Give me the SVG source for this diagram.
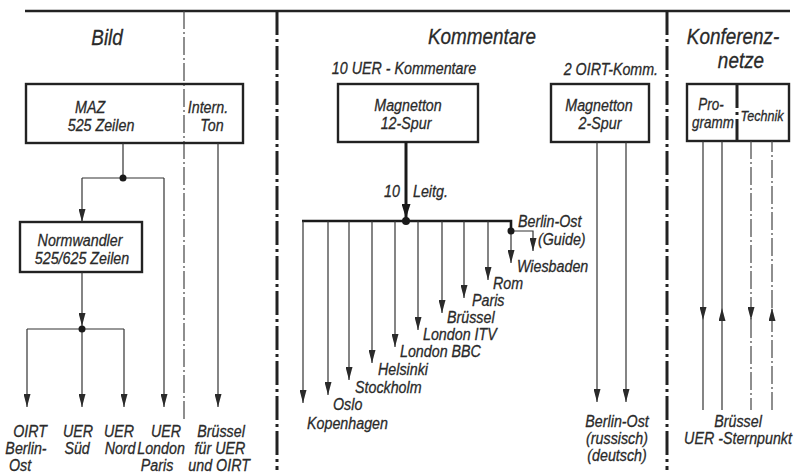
<svg xmlns="http://www.w3.org/2000/svg" width="796" height="473" viewBox="0 0 796 473">
<defs>
<marker id="ah" markerUnits="userSpaceOnUse" markerWidth="13" markerHeight="7" refX="13" refY="3.5" orient="auto"><path d="M0,0 L13,3.5 L0,7 z" fill="#2a2a2a"/></marker>
<marker id="ahb" markerUnits="userSpaceOnUse" markerWidth="14" markerHeight="9" refX="14" refY="4.5" orient="auto"><path d="M0,0 L14,4.5 L0,9 z" fill="#1a1a1a"/></marker>
<style>
text{font-family:"Liberation Sans",Arial,sans-serif;font-style:italic;fill:#2a2a2a;stroke:#2a2a2a;stroke-width:0.3;font-size:17px;transform-box:fill-box;transform-origin:left center;transform:scaleX(0.84)}
.m{text-anchor:middle;transform-origin:center}
.h{font-size:22px;transform:scaleX(0.86)}
.box{fill:none;stroke:#222;stroke-width:2.4}
.ln{stroke:#333;stroke-width:1.2;fill:none}
.ar{marker-end:url(#ah)}
.thick{stroke:#1a1a1a;stroke-width:3;fill:none}
.div{stroke:#222;stroke-width:3;stroke-dasharray:24 4 3 4;fill:none}
.dd{stroke:#444;stroke-width:1.2;stroke-dasharray:18 3 2 3;fill:none}
.dot{fill:#1a1a1a}
</style>
</defs>
<rect width="796" height="473" fill="#fff"/>
<g id="frame">
<path d="M25,11 H790" stroke="#222" stroke-width="2.4"/>
<path class="div" d="M277,11 V470"/>
<path class="div" d="M667,11 V470"/>
<path class="dd" d="M184,11 V420"/>
<text class="h m" x="107" y="45">Bild</text>
<text class="h m" x="482" y="44">Kommentare</text>
<text class="h m" x="733" y="44">Konferenz-</text>
<text class="h m" x="741" y="68">netze</text>
</g>
<g id="maz">
<rect class="box" x="26" y="84" width="217" height="59"/>
<text class="m" x="90" y="113">MAZ</text>
<text class="m" x="101" y="131">525 Zeilen</text>
<text class="m" x="208" y="113">Intern.</text>
<text class="m" x="212" y="131">Ton</text>
</g>
<g id="normwandler">
<rect class="box" x="20" y="222" width="122" height="50"/>
<text class="m" x="80" y="246">Normwandler</text>
<text class="m" x="82" y="264">525/625 Zeilen</text>
</g>
<g id="magnetton12">
<text class="m" x="404" y="74">10 UER - Kommentare</text>
<rect class="box" x="338" y="84" width="140" height="58"/>
<text class="m" x="408" y="111">Magnetton</text>
<text class="m" x="406" y="129">12-Spur</text>
</g>
<g id="magnetton2">
<text class="m" x="611" y="75">2 OIRT-Komm.</text>
<rect class="box" x="551" y="84" width="98" height="58"/>
<text class="m" x="599" y="111">Magnetton</text>
<text class="m" x="600" y="129">2-Spur</text>
</g>
<g id="konferenz">
<rect class="box" x="687" y="84" width="102" height="57"/>
<path class="div" d="M737,84 V141" stroke-dasharray="30 4 3 4"/>
<text class="m" x="711" y="110" style="font-size:16px">Pro-</text>
<text class="m" x="713" y="128" style="font-size:16px">gramm</text>
<text class="m" x="762" y="121" style="font-size:15px">Technik</text>
</g>
<g id="connectors">
<path class="ln" d="M123,143 V178 M82,178 H164"/>
<path class="ln ar" d="M82,178 V222"/>
<path class="ln ar" d="M164,178 V407"/>
<path class="ln ar" d="M218,143 V407"/>
<path class="ln ar" d="M82,272 V326"/>
<path class="ln" d="M27,329 H124"/>
<path class="ln ar" d="M27,329 V407"/>
<path class="ln ar" d="M82,329 V407"/>
<path class="ln ar" d="M124,329 V407"/>
<circle class="dot" cx="123" cy="178" r="3.5"/>
<circle class="dot" cx="82" cy="329" r="3.5"/>
<path class="thick" d="M406,142 V218" marker-end="url(#ahb)"/>
<text class="m" x="392" y="197">10</text>
<text x="413" y="197">Leitg.</text>
<circle class="dot" cx="406" cy="221" r="4"/>
<path d="M302,221 H511 V231" stroke="#1a1a1a" stroke-width="2.6" fill="none"/>
<path class="ln ar" d="M303,221 V403"/>
<path class="ln ar" d="M328,221 V395"/>
<path class="ln ar" d="M349,221 V380"/>
<path class="ln ar" d="M372,221 V363"/>
<path class="ln ar" d="M395,221 V347"/>
<path class="ln ar" d="M418,221 V330"/>
<path class="ln ar" d="M442,221 V313"/>
<path class="ln ar" d="M464,221 V298"/>
<path class="ln ar" d="M488,221 V280"/>
<path class="ln ar" d="M511,231 V263"/>
<path class="ln ar" d="M511,231 H533 V251"/>
<circle class="dot" cx="511" cy="231" r="3.5"/>
<path class="ln ar" d="M597,142 V402"/>
<path class="ln ar" d="M626,142 V402"/>
<path class="ln ar" d="M703,141 V320"/>
<path class="ln" d="M703,320 V410"/>
<path class="ln ar" d="M722,410 V308"/>
<path class="ln" d="M722,308 V141"/>
<path class="dd ar" d="M751,141 V320"/>
<path class="dd" d="M751,320 V410"/>
<path class="dd ar" d="M772,410 V308"/>
<path class="dd" d="M772,308 V141"/>
</g>
<g id="dest-oirt"><text class="m" x="30" y="437">OIRT</text><text class="m" x="26" y="454">Berlin-</text><text class="m" x="20" y="471">Ost</text></g>
<g id="dest-sued"><text class="m" x="78" y="437">UER</text><text class="m" x="77" y="454">Süd</text></g>
<g id="dest-nord"><text class="m" x="119" y="437">UER</text><text class="m" x="120" y="454">Nord</text></g>
<g id="dest-london"><text class="m" x="166" y="437">UER</text><text class="m" x="161" y="454">London</text><text class="m" x="157" y="471">Paris</text></g>
<g id="dest-bruessel"><text class="m" x="221" y="437">Brüssel</text><text class="m" x="220" y="454">für UER</text><text class="m" x="219" y="471">und OIRT</text></g>
<g id="dest-kommentare">
<text x="307" y="429">Kopenhagen</text>
<text x="333" y="410">Oslo</text>
<text x="355" y="393">Stockholm</text>
<text x="378" y="375">Helsinki</text>
<text x="400" y="357">London BBC</text>
<text x="423" y="340">London ITV</text>
<text x="447" y="323">Brüssel</text>
<text x="472" y="306">Paris</text>
<text x="493" y="289">Rom</text>
<text x="517" y="272">Wiesbaden</text>
<text x="518" y="227">Berlin-Ost</text>
<text x="538" y="245">(Guide)</text>
</g>
<g id="dest-berlin-ost"><text class="m" x="617" y="427">Berlin-Ost</text><text class="m" x="617" y="444">(russisch)</text><text class="m" x="617" y="461">(deutsch)</text></g>
<g id="dest-sternpunkt"><text class="m" x="738" y="427">Brüssel</text><text class="m" x="738" y="444">UER -Sternpunkt</text></g>
</svg>
